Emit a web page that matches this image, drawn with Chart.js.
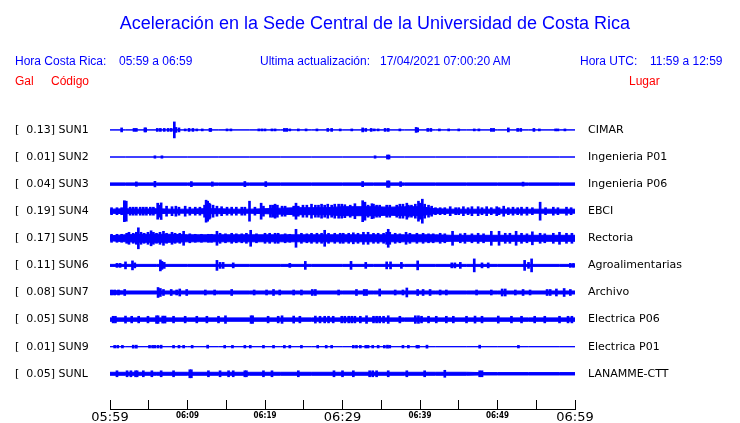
<!DOCTYPE html>
<html><head><meta charset="utf-8">
<script src="https://cdn.jsdelivr.net/npm/chart.js@4.4.1/dist/chart.umd.min.js"></script>
<style>
html,body{margin:0;padding:0;background:#fff;}
#wrap{position:relative;width:740px;height:423px;overflow:hidden;background:#fff;}
canvas{position:absolute;left:0;top:0;}
.t{position:absolute;white-space:pre;font-family:"Liberation Sans",Arial,sans-serif;line-height:1;}
.b{color:#0000ff;font-size:12px;}
.r{color:#ff0000;font-size:12px;}
</style></head><body>
<div id="wrap">
<canvas id="c" width="740" height="423"></canvas>
<div class="t" style="left:5px;width:740px;text-align:center;top:14px;font-size:18px;color:#0000ff">Aceleración en la Sede Central de la Universidad de Costa Rica</div>
<div class="t b" style="left:15px;top:55px">Hora Costa Rica:</div>
<div class="t b" style="left:119px;top:55px">05:59 a 06:59</div>
<div class="t b" style="left:260px;top:55px">Ultima actualización:</div>
<div class="t b" style="left:380px;top:55px">17/04/2021 07:00:20 AM</div>
<div class="t b" style="left:580px;top:55px">Hora UTC:</div>
<div class="t b" style="left:650px;top:55px">11:59 a 12:59</div>
<div class="t r" style="left:15px;top:75px">Gal</div>
<div class="t r" style="left:51px;top:75px">Código</div>
<div class="t r" style="left:629px;top:75px">Lugar</div>
</div>
<script>
// ---- data ----
const codes = ['SUN1','SUN2','SUN3','SUN4','SUN5','SUN6','SUN7','SUN8','SUN9','SUNL'];
const places = ['CIMAR','Ingenieria P01','Ingenieria P06','EBCI','Rectoria','Agroalimentarias','Archivo','Electrica P06','Electrica P01','LANAMME-CTT'];
const pga = [0.13,0.01,0.04,0.19,0.17,0.11,0.08,0.05,0.01,0.05];
const timeLabels = ['05:59','','06:09','','06:19','','06:29','','06:39','','06:49','','06:59'];
// minutes after 05:59 at which the envelopes are sampled
const envMinutes = [0,2,4,6,8,10,12,14,16,18,20,22,24,26,28,30,32,34,36,38,40,42,44,46,48,50,52,54,56,58,60];

// envelope (core) half-amplitudes, display counts, every 2 minutes
const env_SUN1 = [0.5,0.5,0.5,0.5,0.5,0.5,0.5,0.5,0.5,0.5,0.5,0.5,0.5,0.5,0.5,0.5,0.5,0.5,0.5,0.5,0.5,0.5,0.5,0.5,0.5,0.5,0.5,0.5,0.5,0.5,0.5];
const env_SUN2 = [0.5,0.5,0.5,0.5,0.5,0.5,0.5,0.5,0.5,0.5,0.5,0.5,0.5,0.5,0.5,0.5,0.5,0.5,0.5,0.5,0.5,0.5,0.5,0.5,0.5,0.5,0.5,0.5,0.5,0.5,0.5];
const env_SUN3 = [1.7,1.7,1.7,1.7,1.7,1.7,1.7,1.7,1.7,1.7,1.7,1.7,1.7,1.7,1.7,1.7,1.7,1.7,1.7,1.7,1.7,1.7,1.7,1.7,1.7,1.7,1.7,1.7,1.7,1.7,1.7];
const env_SUN4 = [2.5,3,2.5,3,2.5,2.5,3,3,2.5,2.5,3,3.5,4,4,4,5,5,5,4.5,5,5,3,2.5,2.5,2.5,2.5,2.5,2.5,2.5,2.5,2.5];
const env_SUN5 = [3,4,4.5,4.5,4.5,4,4,4,4,4,4,4,4,4,4,4,4,4,4,4,4,4,3.5,3.5,3.5,3.5,3.5,3.5,3.5,3.5,3.5];
const env_SUN6 = [1.5,1.5,1.5,1.5,1.5,1.5,1.5,1.5,1.5,1.5,1.5,1.5,1.5,1.5,1.5,1.5,1.5,1.5,1.5,1.5,1.5,1.5,1.5,1.5,1.5,1.5,1.5,1.5,1.5,1.5,1.5];
const env_SUN7 = [2.5,2,2,2,2,2,2,2,2,2,2,2,2,2,2,2,2,2,2,2,2,2,2,2,2,2,2,2,2,2,2];
const env_SUN8 = [2.2,2.2,2.2,2.2,2.2,2.2,2.2,2.2,2.2,2.2,2.2,2.2,2.2,2.2,2.2,2.2,2.2,2.2,2.2,2.2,2.2,2.2,2.2,2.2,2.2,2.2,2.2,2.2,2.2,2.2,2.2];
const env_SUN9 = [0.5,0.5,0.5,0.5,0.5,0.5,0.5,0.5,0.5,0.5,0.5,0.5,0.5,0.5,0.5,0.5,0.5,0.5,0.5,0.5,0.5,0.5,0.5,0.5,0.5,0.5,0.5,0.5,0.5,0.5,0.5];
const env_SUNL = [2,2,2,2,2,2,2,2,2,2,2,2,2,2,2,2,2,2,2,2,2,2,2,2,1.7,1.7,1.7,1.7,1.7,1.7,1.7];

// peaks: [minute after 05:59, half-amplitude in display counts]
const spikes_SUN1 = [[1.5,2],[3.1,1.5],[3.4,1.5],[4.5,2],[4.6,2],[6.1,1.5],[6.5,1.5],[7.0,1.5],[7.5,1.5],[7.9,1.5],[8.3,8],[8.5,2.5],[8.9,2],[9.7,1],[10.2,1.5],[10.7,1.5],[11.2,1],[11.9,1],[12.9,1.5],[13.0,1.5],[15.1,1],[15.6,1],[19.2,1],[19.6,1],[20.0,1],[20.9,1],[21.3,1],[22.5,1.5],[22.8,1.5],[23.2,1],[24.3,1],[25.3,1],[26.7,1],[28.1,1.5],[28.6,1.5],[29.7,1],[31.2,1],[32.6,2],[33.0,1.5],[33.7,1.5],[34.1,1],[34.6,1],[35.5,1.5],[35.9,1.5],[37.4,1],[39.5,2.5],[39.7,2],[41.0,1.5],[41.4,1.5],[42.5,1],[43.7,1],[45.0,1],[47.0,1],[47.6,1],[49.2,1.5],[49.5,1.5],[51.4,2],[52.6,1.5],[53.0,1.5],[54.7,1.5],[55.4,1],[57.5,1],[57.8,1],[58.7,1]];
const spikes_SUN2 = [[5.8,1.2],[6.7,1.2],[34.2,1.2],[35.8,2],[36.0,2]];
const spikes_SUN3 = [[3.4,2.2],[5.8,2.8],[10.5,2.5],[13.2,2.2],[17.4,2.6],[20.1,2.5],[32.6,2.6],[35.8,3.2],[36.0,3.2],[37.5,2.4],[53.3,2.0]];
const spikes_SUN4 = [[0.2,3.5],[0.9,3.5],[1.5,3.5],[1.85,10.5],[2.0,5],[2.1,10],[2.6,4],[3.0,4],[3.4,4],[3.9,4],[4.3,4],[4.7,4],[5.2,4],[5.6,4],[6.15,8],[6.3,6],[6.6,8.3],[7.3,5],[8.0,4.5],[8.5,5],[8.9,4],[9.7,5],[10.3,4],[11.0,4],[11.6,4],[12.2,6],[12.4,11],[12.6,10],[12.8,8],[12.9,7],[13.3,6],[13.8,5],[14.4,4.5],[15.1,4],[15.7,4],[16.3,4],[17.0,4],[17.4,4],[18.0,10],[18.7,4],[19.5,8],[19.8,5],[20.7,6],[21.0,6],[21.3,7],[21.6,6],[22.2,5],[22.6,5],[23.7,5],[24.0,8],[24.3,5],[24.9,6],[25.4,6],[26.0,7],[26.5,6],[26.9,6],[27.3,7],[27.7,6],[28.1,7],[28.6,6],[29.0,7],[29.5,7],[29.9,7],[30.3,6.5],[31.0,6],[31.6,7.5],[32.6,10.5],[32.9,9],[33.3,6],[33.8,7.5],[34.0,7],[34.4,6],[34.8,6],[35.7,6],[36.1,6],[37.0,6],[37.4,7],[37.8,7],[38.3,8],[38.5,6],[38.9,6],[39.4,7],[39.8,10],[40.0,8],[40.3,12],[40.6,7],[41.1,6],[41.5,5],[42.0,3.5],[42.6,3.5],[43.2,3.5],[43.9,4.5],[44.6,3.5],[45.0,3.5],[45.6,4.5],[46.2,3.5],[46.7,4.5],[47.5,4.5],[48.0,3.5],[48.6,4.5],[49.2,3.5],[49.9,4.5],[50.2,3.5],[50.8,5],[51.4,3.5],[52.0,4],[52.6,3.5],[53.1,4],[53.8,4],[54.5,3.5],[55.5,9],[56.2,3.5],[57.2,4],[57.8,3.5],[58.9,4],[59.5,3.5]];
const spikes_SUN5 = [[0.2,4],[0.9,4],[1.5,4],[2.15,5],[2.45,6],[3.0,5],[3.4,6],[3.66,10.5],[4.0,6],[4.4,5],[4.9,6],[5.3,7.5],[5.6,6],[6.0,5],[6.45,6],[6.9,7],[7.3,5],[8.0,6],[8.4,5],[9.0,5],[9.5,7],[10.3,4.5],[11.0,4],[11.8,4],[12.7,4],[13.1,4],[13.8,7],[14.2,5],[14.9,4.5],[15.7,5],[16.3,4.5],[17.0,4.5],[17.6,5],[18.15,8],[18.9,4.5],[20.0,5],[20.6,5],[21.3,5],[21.7,5],[22.6,4.5],[23.2,4],[24.0,9],[24.7,5],[25.4,4.5],[26.0,5],[26.7,5],[27.3,5],[27.7,8],[28.2,5],[29.0,5],[29.7,5],[30.1,5],[30.8,5],[31.4,5.5],[32.0,5],[32.7,6],[33.3,6],[34.0,5],[34.6,5],[35.3,5],[35.7,6],[35.9,9],[36.1,6],[36.8,5],[37.4,4.5],[38.2,6],[38.7,5],[39.6,5],[40.4,5],[41.1,4.5],[41.7,4.5],[42.6,5],[43.2,4.5],[44.2,7],[45.2,4.5],[45.8,5],[46.7,4.5],[47.5,5],[48.2,4.5],[49.2,7],[50.2,7],[51.0,5],[51.6,5],[52.4,7],[53.1,5],[53.8,4.5],[54.5,6.5],[55.5,5],[56.1,4.5],[57.2,5],[58.0,6],[58.9,5],[59.6,5]];
const spikes_SUN6 = [[0.9,2],[1.3,2],[2.0,3.5],[2.9,4.5],[3.2,2.5],[6.5,5.5],[6.7,4],[7.0,3],[13.8,5],[14.2,3],[14.6,3],[15.9,2.5],[23.2,2],[25.2,4],[31.1,4],[33.0,3],[35.7,3.5],[36.2,3.5],[37.6,3],[39.7,4.5],[44.1,2.5],[44.5,2.5],[45.2,3],[47.0,6.5],[48.0,2.5],[48.8,2.5],[53.5,5],[54.0,3],[54.4,6.5],[59.4,2],[59.8,2]];
const spikes_SUN7 = [[0.2,2.5],[0.6,2.5],[1.1,2.5],[1.9,3],[6.2,5],[6.5,4],[6.9,3],[7.9,3],[8.6,2.5],[9.0,3.5],[9.9,3],[12.3,2.5],[13.5,2.5],[15.7,3],[18.6,2.5],[20.2,2.5],[21.1,3],[21.9,2.5],[23.7,2.5],[24.7,2.5],[26.1,3],[26.5,3],[29.5,2.5],[31.8,3],[32.8,3],[33.1,3],[34.8,3.5],[36.8,2.5],[37.8,2.5],[38.3,4.5],[39.7,3],[40.4,3],[41.3,3],[42.6,2.5],[43.4,2.5],[47.3,2.5],[49.2,2.5],[50.6,3.5],[51.0,3.5],[52.3,2.5],[53.3,3],[54.2,2.5],[56.4,3],[56.8,3],[57.6,3.5],[58.6,4],[59.4,3]];
const spikes_SUN8 = [[0.4,3.3],[0.7,3.3],[2.0,3.5],[2.8,3.3],[3.7,3.3],[4.9,3.3],[6.0,3.8],[6.2,3.8],[6.8,3.5],[7.1,3.5],[8.2,3.3],[9.7,3.3],[11.2,3.3],[12.5,3.3],[14.0,3.3],[14.9,3.8],[18.2,3.8],[18.4,3.8],[20.4,3.3],[21.7,3.3],[22.2,3.8],[23.7,3.5],[24.5,3.3],[26.5,3.5],[27.1,3.3],[27.7,3.3],[28.2,3.3],[28.8,3.3],[29.9,3.3],[30.3,3.3],[30.8,3.3],[31.2,3.3],[31.6,3.3],[32.3,3.3],[33.1,3.8],[34.0,3.3],[34.4,3.3],[34.8,3.3],[35.3,3.3],[35.9,3.8],[37.4,3.3],[39.4,3.8],[39.8,3.8],[40.2,3.3],[41.1,3.3],[42.1,3.3],[43.4,3.3],[44.3,3.3],[46.0,3.3],[47.1,3.5],[48.0,3.3],[50.1,3.5],[51.8,3.3],[53.1,3.3],[54.8,3.3],[56.1,3.3],[58.0,3.3],[59.1,3.3],[59.6,3.3]];
const spikes_SUN9 = [[0.6,1.3],[1.0,1.3],[1.6,1.3],[3.0,1.5],[3.4,1.5],[5.1,1.3],[5.5,1.3],[5.8,1.3],[6.2,1.3],[6.6,1.5],[8.2,1.3],[8.9,1.3],[9.5,1.3],[10.6,1.3],[12.6,1.5],[14.8,1.3],[15.8,1.3],[17.4,1.3],[18.1,1.3],[19.8,1.3],[21.1,1.3],[22.5,1.3],[23.2,1.3],[24.7,1.3],[26.8,1.3],[27.9,1.3],[28.6,1.3],[31.4,1.3],[31.8,1.3],[32.3,1.3],[33.0,1.3],[33.3,1.3],[33.9,1.3],[34.6,1.3],[35.4,1.3],[35.8,1.5],[36.1,1.3],[37.8,1.3],[38.5,1.3],[39.6,1.3],[39.8,1.3],[40.9,1.5],[47.7,1.5],[52.7,1.3]];
const spikes_SUNL = [[0.9,3],[2.2,3],[2.7,3],[3.3,3],[3.5,3],[4.3,3],[5.4,3],[6.6,3],[8.2,3],[10.3,4],[10.5,4],[12.7,3],[14.2,3],[15.3,3],[15.9,3],[17.4,3],[17.6,3],[19.8,3],[20.9,3],[24.3,3],[28.9,3],[30.0,3],[31.4,3],[33.5,3],[33.9,3],[34.4,3],[35.9,3],[38.3,3],[40.6,3],[43.2,3.5],[47.7,3],[48.0,3]];

const envelopes = [env_SUN1,env_SUN2,env_SUN3,env_SUN4,env_SUN5,env_SUN6,env_SUN7,env_SUN8,env_SUN9,env_SUNL];
const spikes = [spikes_SUN1,spikes_SUN2,spikes_SUN3,spikes_SUN4,spikes_SUN5,spikes_SUN6,spikes_SUN7,spikes_SUN8,spikes_SUN9,spikes_SUNL];

// ---- build datasets ----
const BLUE = '#0000ff';
const COUNTS_PER_SLOT = 27.1;   // one trace slot = 27.1 display counts
const LINE_HALF = 0.5;          // half of the 1px outline
const datasets = [];
envelopes.forEach((env, i) => {
  const up = env.map((a, k) => ({x: envMinutes[k], y: -i + Math.max(0, a - LINE_HALF) / COUNTS_PER_SLOT}));
  const dn = env.map((a, k) => ({x: envMinutes[k], y: -i - Math.max(0, a - LINE_HALF) / COUNTS_PER_SLOT}));
  datasets.push({type:'line', data: up, borderColor: BLUE, borderWidth: 1, pointRadius: 0, tension: 0, fill: false});
  datasets.push({type:'line', data: dn, borderColor: BLUE, borderWidth: 1, pointRadius: 0, tension: 0, fill: '-1', backgroundColor: BLUE});
});
const spikeData = [];
spikes.forEach((list, i) => list.forEach(([m, a]) => spikeData.push({x: m, y: [-i - a / COUNTS_PER_SLOT, -i + a / COUNTS_PER_SLOT]})));
datasets.push({type:'bar', data: spikeData, backgroundColor: BLUE, borderWidth: 0, barThickness: 2, grouped: true});

const YMIN = -10.30, YMAX = 1.03;
const slotTicks = (s) => { s.ticks = codes.map((c, i) => ({value: -i})); };

new Chart(document.getElementById('c'), {
  type: 'line',
  data: {datasets},
  options: {
    responsive: false, animation: false, devicePixelRatio: 1,
    layout: {autoPadding: false, padding: {left: 15, right: 0, top: 102, bottom: 0}},
    plugins: {legend: {display: false}, tooltip: {enabled: false}},
    scales: {
      x: {
        type: 'linear', min: 0, max: 60, offset: false,
        ticks: {
          stepSize: 5, autoSkip: false, maxRotation: 0, minRotation: 0, padding: 10, color: '#000',
          callback: (v, idx) => timeLabels[idx],
          font: (c) => (c.index % 6 === 0)
            ? {family: 'DejaVu Sans', size: 13, lineHeight: 1.2}
            : {family: 'DejaVu Sans Condensed', size: 8, weight: 'bold', lineHeight: 1.6}
        },
        grid: {drawOnChartArea: false, drawTicks: true, tickLength: -9, color: '#000', lineWidth: 1, offset: false},
        border: {display: true, color: '#000', width: 1},
        afterFit: (s) => { s.height = 14; }
      },
      y: {
        type: 'linear', position: 'left', min: YMIN, max: YMAX, stacked: false,
        afterBuildTicks: slotTicks,
        ticks: {autoSkip: false, crossAlign: 'far', padding: 0, color: '#000', font: {family: 'DejaVu Sans', size: 11},
          callback: (v, idx) => '[' + pga[idx].toFixed(2).padStart(6, ' ') + '] ' + codes[idx]},
        grid: {display: false, drawTicks: false}, border: {display: false},
        afterFit: (s) => { s.width = 95; }
      },
      y2: {
        type: 'linear', position: 'right', min: YMIN, max: YMAX,
        afterBuildTicks: slotTicks,
        ticks: {autoSkip: false, crossAlign: 'near', padding: 0, color: '#000', font: {family: 'DejaVu Sans', size: 11},
          callback: (v, idx) => places[idx]},
        grid: {display: false, drawTicks: true, tickLength: 13}, border: {display: false},
        afterFit: (s) => { s.width = 165; }
      }
    }
  }
});
</script>
</body></html>
